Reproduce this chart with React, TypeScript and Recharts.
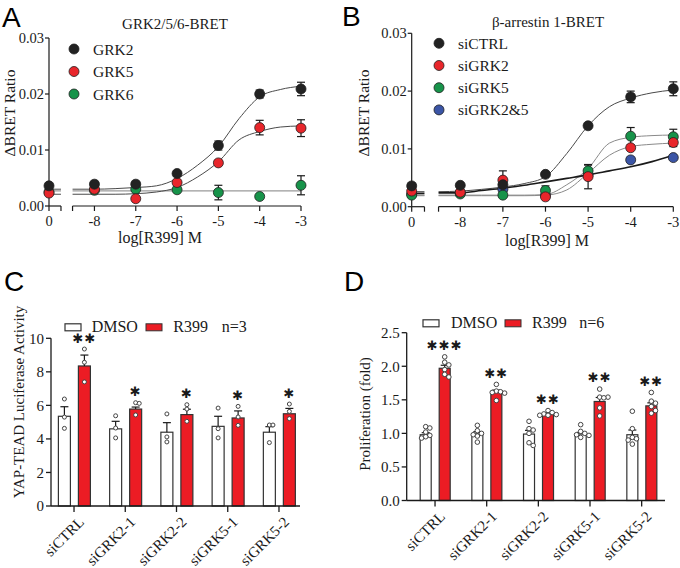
// GRK BRET dose-response (A, B) + YAP-TEAD / proliferation bars (C, D)
import { ComposedChart, Bar, Line, Scatter, XAxis, YAxis, ErrorBar, ReferenceLine } from 'recharts';

const SERIF = '"Liberation Serif", "Times New Roman", Tinos, "DejaVu Serif", serif';
const SANS = '"Liberation Sans", Arial, sans-serif';
const INK = '#1a1a1a';
const RED = '#EC1C24';
const serifStyle = { fontFamily: SERIF };

// ---- A / B : doses ----
const doseLabels = ['0', '-8', '-7', '-6', '-5', '-4', '-3'];
const doseA = [-9.1, -8, -7, -6, -5, -4, -3];
const doseB = [-9.14, -8, -7, -6, -5, -4, -3];

// A: GRK2/5/6-BRET
const grk2 = [0.0036, 0.0039, 0.0039, 0.0058, 0.0108, 0.0200, 0.0209];
const grk2Err = [0, 0, 0.0003, 0.0004, 0.0008, 0.0007, 0.0012];
const grk5 = [0.0023, 0.0030, 0.0013, 0.0042, 0.0077, 0.0140, 0.0139];
const grk5Err = [0, 0, 0, 0, 0, 0.0013, 0.0015];
const grk6 = [0.0025, 0.0028, 0.0030, 0.0029, 0.0024, 0.0017, 0.0037];
const grk6Err = [0, 0, 0, 0, 0.0013, 0, 0.0017];

// fitted curves (null = axis break)
const fitXA = [-9.1, -8.81, -8.67, -8.53, -8, -7.5, -7, -6.5, -6, -5.5, -5, -4.5, -4, -3.5, -3];
const grk2Fit = [0.0030, 0.0030, null, 0.0030, 0.0030, 0.0031, 0.0033, 0.0036, 0.0049, 0.0073, 0.0106, 0.0156, 0.0195, 0.0208, 0.0214];
const grk5Fit = [0.0021, 0.0021, null, 0.0021, 0.0021, 0.0021, 0.0022, 0.0025, 0.0033, 0.0052, 0.0079, 0.0118, 0.0133, 0.0141, 0.0143];
const grk6Fit = [0.0027, 0.0027, null, 0.0027, 0.0027, 0.0027, 0.0027, 0.0027, 0.0027, 0.0027, 0.0027, 0.0027, 0.0027, 0.0027, 0.0027];

// B: beta-arrestin 1-BRET
const siCtrl = [0.0036, 0.0037, 0.0038, 0.0056, 0.0140, 0.0190, 0.0204];
const siCtrlErr = [0, 0, 0, 0.0003, 0, 0.0010, 0.0012];
const siGrk2 = [0.0027, 0.0025, 0.0046, 0.0017, 0.0052, 0.0102, 0.0111];
const siGrk2Err = [0, 0, 0.0016, 0, 0.0021, 0, 0.0007];
const siGrk5 = [0.0020, 0.0022, 0.0020, 0.0028, 0.0062, 0.0122, 0.0121];
const siGrk5Err = [0, 0, 0, 0.0008, 0.0010, 0.0015, 0.0013];
const siGrk25 = [0.0022, 0.0024, 0.0030, 0.0020, 0.0055, 0.0081, 0.0085];
const siGrk25Err = [0, 0, 0, 0, 0, 0, 0];

const fitXB = [-9.14, -8.84, -8.67, -8.51, -8, -7.5, -7, -6.5, -6, -5.5, -5, -4.5, -4, -3.5, -3];
const siCtrlFit = [0.0026, 0.0026, null, 0.0026, 0.0027, 0.0030, 0.0034, 0.0040, 0.0052, 0.0092, 0.0140, 0.0173, 0.0188, 0.0197, 0.0202];
const siGrk2Fit = [0.0019, 0.0019, null, 0.0019, 0.0019, 0.0019, 0.0019, 0.0019, 0.0020, 0.0029, 0.0058, 0.0089, 0.0104, 0.0108, 0.0110];
const siGrk5Fit = [0.0020, 0.0020, null, 0.0020, 0.0020, 0.0020, 0.0020, 0.0020, 0.0021, 0.0038, 0.0066, 0.0110, 0.0120, 0.0123, 0.0124];
const siGrk25Fit = [0.0023, 0.0023, null, 0.0024, 0.0024, 0.0028, 0.0032, 0.0037, 0.0043, 0.0049, 0.0055, 0.0062, 0.0069, 0.0078, 0.0089];

// ---- C / D : bars ----
const groups = ['siCTRL', 'siGRK2-1', 'siGRK2-2', 'siGRK5-1', 'siGRK5-2'];

const cDmso = [5.35, 4.6, 4.4, 4.75, 4.4];
const cDmsoErr = [0.57, 0.45, 0.57, 0.6, 0.33];
const cR399 = [8.35, 5.78, 5.45, 5.25, 5.5];
const cR399Err = [0.65, 0.12, 0.32, 0.42, 0.32];
const cDmsoPts = [[6.38, 5.3, 4.63], [5.38, 4.65, 4.06], [5.49, 4.12, 3.82], [5.84, 4.61, 4.06], [4.83, 4.83, 3.78]];
const cR399Pts = [[9.36, 8.57, 7.4], [6.16, 6.12, 5.43], [6.04, 5.78, 5.05], [5.94, 5.31, 4.81], [6.08, 5.64, 5.21]];
const cStars = ['**', '*', '*', '*', '*'];

const dDmso = [0.98, 0.99, 0.99, 0.99, 0.98];
const dDmsoErr = [0.03, 0.035, 0.055, 0.025, 0.07];
const dR399 = [1.97, 1.61, 1.295, 1.475, 1.41];
const dR399Err = [0.045, 0.035, 0.012, 0.06, 0.045];
const dDmsoPts = [
  [1.1, 1.08, 1.02, 0.97, 0.95, 0.93],
  [1.12, 1.04, 1.0, 0.98, 0.96, 0.87],
  [1.18, 1.07, 1.05, 1.0, 0.86, 0.82],
  [1.13, 1.03, 1.0, 0.98, 0.97, 0.94],
  [1.33, 1.07, 0.94, 0.92, 0.9, 0.84],
];
const dR399Pts = [
  [2.14, 2.06, 2.02, 1.95, 1.88, 1.84],
  [1.73, 1.63, 1.62, 1.61, 1.6, 1.49],
  [1.34, 1.31, 1.29, 1.28, 1.27, 1.27],
  [1.66, 1.54, 1.54, 1.53, 1.38, 1.26],
  [1.61, 1.48, 1.45, 1.4, 1.34, 1.3],
];
const dStars = ['***', '**', '**', '**', '**'];

const pts = (xs: number[], ys: number[], es: number[]) => ys.map((y, i) => ({ x: xs[i], y, e: es[i] }));
const curve = (xs: number[], ys: (number | null)[]) => ys.map((y, i) => ({ x: xs[i], y }));

const dot = (color: string) => (p: any) => (
  <circle cx={p.cx} cy={p.cy} r={5} fill={color} stroke="#202020" strokeWidth={0.8} />
);

const tickFont = { fill: INK, fontSize: 14.5, fontFamily: SERIF, style: serifStyle };

function DosePanel(props: any) {
  const { left, top, margin, xs, brk, series, curves, title, yLab, xLab, legend, letter } = props;
  const ticks = [xs[0], brk[0], brk[1], ...xs.slice(1)];
  const fmt = (v: number) => {
    const i = xs.indexOf(v);
    return i >= 0 ? doseLabels[i] : '';
  };
  return (
    <div style={{ position: 'absolute', left, top }}>
      <ComposedChart width={340} height={262} margin={margin}>
        <XAxis
          type="number"
          dataKey="x"
          domain={[xs[0], -3]}
          ticks={ticks}
          tickFormatter={fmt}
          axisLine={false}
          tickSize={5}
          tickMargin={5}
          height={30}
          tickLine={{ stroke: INK, strokeWidth: 1.2 }}
          tick={tickFont}
        />
        <YAxis
          type="number"
          dataKey="y"
          domain={[0, 0.03]}
          ticks={[0, 0.01, 0.02, 0.03]}
          tickFormatter={(v: number) => v.toFixed(2)}
          width={45}
          tickSize={4}
          tickMargin={1}
          axisLine={{ stroke: INK, strokeWidth: 1.2 }}
          tickLine={{ stroke: INK, strokeWidth: 1.2 }}
          tick={tickFont}
        />
        <ReferenceLine segment={[{ x: xs[0], y: 0 }, { x: brk[0], y: 0 }]} stroke={INK} strokeWidth={1.2} ifOverflow="visible" />
        <ReferenceLine segment={[{ x: brk[1], y: 0 }, { x: -3, y: 0 }]} stroke={INK} strokeWidth={1.2} ifOverflow="visible" />
        {curves.map((c: any, i: number) => (
          <Line
            key={'c' + i}
            data={c.data}
            dataKey="y"
            type="monotone"
            stroke={c.color}
            strokeWidth={c.width}
            dot={false}
            activeDot={false}
            connectNulls={false}
            isAnimationActive={false}
          />
        ))}
        {series.map((s: any) => (
          <Scatter key={s.name} name={s.name} data={s.data} dataKey="y" shape={dot(s.color)} isAnimationActive={false}>
            <ErrorBar dataKey="e" direction="y" width={4} stroke={INK} strokeWidth={1.2} />
          </Scatter>
        ))}
        <text x={title.x} y={title.y} textAnchor="middle" style={serifStyle} fontSize={15} fill={INK}>
          {title.text}
        </text>
        <text
          x={yLab.x}
          y={yLab.y}
          transform={`rotate(-90, ${yLab.x}, ${yLab.y})`}
          textAnchor="middle"
          style={serifStyle}
          fontSize={15.5}
          fill={INK}
        >
          ΔBRET Ratio
        </text>
        <text x={xLab.x} y={xLab.y} textAnchor="middle" style={serifStyle} fontSize={16} fill={INK}>
          log[R399] M
        </text>
        {[...series].reverse().map((s: any, i: number) => (
          <g key={'lg' + i}>
            <circle cx={legend.x} cy={legend.y + i * legend.dy} r={5} fill={s.color} stroke="#202020" strokeWidth={0.8} />
            <text x={legend.x + 19} y={legend.y + i * legend.dy + 5.5} style={serifStyle} fontSize={15.5} fill={INK}>
              {s.name}
            </text>
          </g>
        ))}
        <text x={letter.x} y={letter.y} style={{ fontFamily: SANS }} fontSize={28} fill="#000">
          {letter.text}
        </text>
      </ComposedChart>
    </div>
  );
}

function barShape(key: string, dots: number[][], errs: number[], stars: string[] | null, fill: string, r: number) {
  return (p: any) => {
    const { x, y, width, height, index } = p;
    const v = p.payload[key];
    const k = height / v;
    const base = y + height;
    const py = (val: number) => base - val * k;
    const cx = x + width / 2;
    const eTop = py(v + errs[index]);
    const sep = r * 1.8;
    const placed: { x: number; y: number }[] = [];
    dots[index].forEach((val) => {
      const yy = py(val);
      let off = 0;
      for (let s = 0; s < 9; s++) {
        off = s === 0 ? 0 : (s % 2 ? 1 : -1) * Math.ceil(s / 2) * sep;
        const ok = placed.every((q) => Math.hypot(q.x - (cx + off), q.y - yy) >= sep);
        if (ok) break;
      }
      placed.push({ x: cx + off, y: yy });
    });
    const topPx = Math.min(eTop, ...placed.map((q) => q.y - r));
    return (
      <g>
        <rect x={x} y={y} width={width} height={height} fill={fill} stroke="#333" strokeWidth={1.2} />
        <line x1={cx} x2={cx} y1={y} y2={eTop} stroke={INK} strokeWidth={1.2} />
        <line x1={cx - 4} x2={cx + 4} y1={eTop} y2={eTop} stroke={INK} strokeWidth={1.2} />
        {placed.map((q, i) => (
          <circle key={i} cx={q.x} cy={q.y} r={r} fill="#fff" stroke="#444" strokeWidth={1} />
        ))}
        {stars && (
          <text
            x={cx}
            y={topPx - 9}
            textAnchor="middle"
            dominantBaseline="central"
            style={{ fontFamily: '"DejaVu Sans", sans-serif' }}
            fontSize={13}
            letterSpacing={1}
            fill={INK}
          >
            {stars[index].replace(/\*/g, '✱')}
          </text>
        )}
      </g>
    );
  };
}

const RotTick = (p: any) => {
  const ax = p.x + 11;
  const ay = p.y + 9;
  return (
    <text x={ax} y={ay} transform={`rotate(-45, ${ax}, ${ay})`} textAnchor="end" style={serifStyle} fontSize={15} fill={INK}>
      {p.payload.value}
    </text>
  );
};

function BarPanel(props: any) {
  const { left, top, margin, padding, yMax, ticks, fmt, dmso, dmsoErr, r399, r399Err, dmsoPts, r399Pts, stars, r, barSize, yLab, legend, nText, letter } = props;
  const data = groups.map((g, i) => ({ g, dmso: dmso[i], r399: r399[i] }));
  return (
    <div style={{ position: 'absolute', left, top }}>
      <ComposedChart width={340} height={306} data={data} margin={margin} barSize={barSize} barGap={8}>
        <XAxis
          dataKey="g"
          interval={0}
          padding={padding}
          height={50}
          tickSize={6}
          axisLine={{ stroke: INK, strokeWidth: 1.3 }}
          tickLine={{ stroke: INK, strokeWidth: 1.3 }}
          tick={<RotTick />}
        />
        <YAxis
          domain={[0, yMax]}
          ticks={ticks}
          tickFormatter={fmt}
          width={35}
          tickSize={5}
          tickMargin={2}
          axisLine={{ stroke: INK, strokeWidth: 1.3 }}
          tickLine={{ stroke: INK, strokeWidth: 1.3 }}
          tick={{ ...tickFont, fontSize: 15 }}
        />
        <Bar dataKey="dmso" shape={barShape('dmso', dmsoPts, dmsoErr, null, '#fff', r)} isAnimationActive={false} />
        <Bar dataKey="r399" shape={barShape('r399', r399Pts, r399Err, stars, RED, r)} isAnimationActive={false} />
        <text
          x={yLab.x}
          y={yLab.y}
          transform={`rotate(-90, ${yLab.x}, ${yLab.y})`}
          textAnchor="middle"
          style={serifStyle}
          fontSize={yLab.size}
          fill={INK}
        >
          {yLab.text}
        </text>
        <rect x={legend.x0} y={legend.y - 3.5} width={16} height={7} fill="#fff" stroke="#333" strokeWidth={1.2} />
        <text x={legend.x1} y={legend.y + 5} style={serifStyle} fontSize={16} fill={INK}>DMSO</text>
        <rect x={legend.x2} y={legend.y - 3.5} width={16} height={7} fill={RED} stroke="#333" strokeWidth={1} />
        <text x={legend.x3} y={legend.y + 5} style={serifStyle} fontSize={16} fill={INK}>R399</text>
        <text x={legend.x4} y={legend.y + 5} style={serifStyle} fontSize={16} fill={INK}>{nText}</text>
        <text x={letter.x} y={letter.y} style={{ fontFamily: SANS }} fontSize={28} fill="#000">
          {letter.text}
        </text>
      </ComposedChart>
    </div>
  );
}

export default function App() {
  const seriesA = [
    { name: 'GRK6', color: '#17934a', data: pts(doseA, grk6, grk6Err) },
    { name: 'GRK5', color: '#e8262b', data: pts(doseA, grk5, grk5Err) },
    { name: 'GRK2', color: '#222222', data: pts(doseA, grk2, grk2Err) },
  ];
  const curvesA = [
    { data: curve(fitXA, grk6Fit), color: '#9a9a9a', width: 1.2 },
    { data: curve(fitXA, grk5Fit), color: '#4a4a4a', width: 1 },
    { data: curve(fitXA, grk2Fit), color: '#4a4a4a', width: 1 },
  ];
  const seriesB = [
    { name: 'siGRK2&5', color: '#3b55a6', data: pts(doseB, siGrk25, siGrk25Err) },
    { name: 'siGRK5', color: '#17934a', data: pts(doseB, siGrk5, siGrk5Err) },
    { name: 'siGRK2', color: '#e8262b', data: pts(doseB, siGrk2, siGrk2Err) },
    { name: 'siCTRL', color: '#222222', data: pts(doseB, siCtrl, siCtrlErr) },
  ];
  const curvesB = [
    { data: curve(fitXB, siGrk2Fit), color: '#8a8a8a', width: 1 },
    { data: curve(fitXB, siGrk5Fit), color: '#8a8a8a', width: 1 },
    { data: curve(fitXB, siCtrlFit), color: '#4a4a4a', width: 1 },
    { data: curve(fitXB, siGrk25Fit), color: '#1a1a1a', width: 1.6 },
  ];

  return (
    <div style={{ position: 'absolute', left: 0, top: 0, width: 680, height: 568, background: '#fff', overflow: 'hidden' }}>
      <DosePanel
        left={0}
        top={0}
        margin={{ top: 38, right: 39, left: 4, bottom: 26 }}
        xs={doseA}
        brk={[-8.81, -8.53]}
        series={seriesA}
        curves={curvesA}
        title={{ text: 'GRK2/5/6-BRET', x: 175, y: 29 }}
        yLab={{ x: 15, y: 113 }}
        xLab={{ x: 160, y: 243 }}
        legend={{ x: 74, y: 49, dy: 22.5 }}
        letter={{ text: 'A', x: 2, y: 27 }}
      />
      <DosePanel
        left={340}
        top={0}
        margin={{ top: 33.3, right: 6.7, left: 26.7, bottom: 25.3 }}
        xs={doseB}
        brk={[-8.84, -8.51]}
        series={seriesB}
        curves={curvesB}
        title={{ text: 'β-arrestin 1-BRET', x: 208, y: 27 }}
        yLab={{ x: 29, y: 113 }}
        xLab={{ x: 207, y: 246 }}
        legend={{ x: 99, y: 43.3, dy: 22.2 }}
        letter={{ text: 'B', x: 2, y: 26 }}
      />
      <BarPanel
        left={0}
        top={262}
        margin={{ top: 76.3, right: 40, left: 16, bottom: 12 }}
        padding={{ left: -2.6, right: -4.6 }}
        yMax={10}
        ticks={[0, 2, 4, 6, 8, 10]}
        fmt={(v: number) => String(v)}
        dmso={cDmso}
        dmsoErr={cDmsoErr}
        r399={cR399}
        r399Err={cR399Err}
        dmsoPts={cDmsoPts}
        r399Pts={cR399Pts}
        stars={cStars}
        r={2}
        barSize={12}
        yLab={{ text: 'YAP-TEAD Luciferase Activity', x: 24, y: 140, size: 15 }}
        legend={{ x0: 65, x1: 91.7, x2: 146, x3: 173.3, x4: 221.7, y: 65.3 }}
        nText="n=3"
        letter={{ text: 'C', x: 4, y: 29 }}
      />
      <BarPanel
        left={340}
        top={262}
        margin={{ top: 70.7, right: 15, left: 31.7, bottom: 17.5 }}
        padding={{ left: 2.5, right: -2.5 }}
        yMax={2.5}
        ticks={[0, 0.5, 1, 1.5, 2, 2.5]}
        fmt={(v: number) => v.toFixed(1)}
        dmso={dDmso}
        dmsoErr={dDmsoErr}
        r399={dR399}
        r399Err={dR399Err}
        dmsoPts={dDmsoPts}
        r399Pts={dR399Pts}
        stars={dStars}
        r={2.3}
        barSize={11}
        yLab={{ text: 'Proliferation (fold)', x: 30, y: 152, size: 15 }}
        legend={{ x0: 83, x1: 111, x2: 165, x3: 192, x4: 239.3, y: 61.3 }}
        nText="n=6"
        letter={{ text: 'D', x: 4, y: 29 }}
      />
    </div>
  );
}
